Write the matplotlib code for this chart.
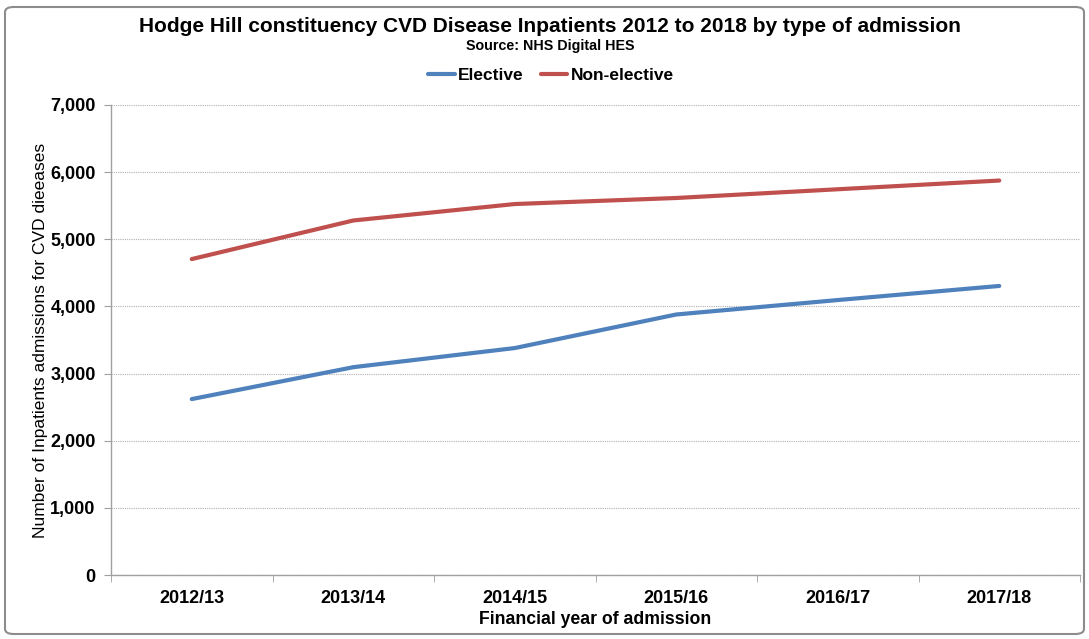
import matplotlib
matplotlib.use("Agg")
import matplotlib.pyplot as plt
from matplotlib.patches import FancyBboxPatch
from matplotlib.ticker import FuncFormatter, FixedLocator
import numpy as np

years = ["2012/13", "2013/14", "2014/15", "2015/16", "2016/17", "2017/18"]
elective = [2620, 3095, 3380, 3880, 4095, 4305]
non_elective = [4705, 5280, 5525, 5615, 5745, 5875]

plt.rcParams['font.family'] = ['Liberation Sans', 'DejaVu Sans']

fig = plt.figure(figsize=(10.89, 6.39), dpi=100)
ax = fig.add_axes([111/1089, 1-575/639, (1080-111)/1089, (575-105)/639])

x = np.arange(len(years))
ax.plot(x, elective, color="#4F81BD", lw=3.0, solid_capstyle="round", label="Elective")
ax.plot(x, non_elective, color="#C0504D", lw=3.0, solid_capstyle="round", label="Non-elective")

ax.set_xlim(-0.5, len(years) - 0.5)
ax.set_ylim(0, 7000)
ax.set_yticks(np.arange(0, 7001, 1000))
ax.yaxis.set_major_formatter(FuncFormatter(lambda v, p: f"{int(v):,}"))
ax.set_xticks(x)
ax.set_xticklabels(years)
ax.xaxis.set_minor_locator(FixedLocator(np.arange(-0.5, len(years), 1.0)))
ax.tick_params(axis='x', which='major', length=0, pad=11, labelsize=13)
ax.tick_params(axis='x', which='minor', length=5, color="#A0A0A0", direction='out')
ax.tick_params(axis='y', length=5, color="#A0A0A0", labelsize=13, pad=6)
for lab in ax.get_xticklabels() + ax.get_yticklabels():
    lab.set_fontweight('bold')

ax.grid(axis='y', linestyle=(0, (1, 1)), color="#B0B0B0", lw=0.8)
ax.set_axisbelow(True)
for s in ['top', 'right']:
    ax.spines[s].set_visible(False)
for s in ['left', 'bottom']:
    ax.spines[s].set_color("#A0A0A0")
    ax.spines[s].set_linewidth(1.0)

ax.set_xlabel("Financial year of admission", fontsize=12.7, fontweight='bold', labelpad=3)
ax.set_ylabel("Number of Inpatients admissions for CVD dieeases", fontsize=12.5, labelpad=2)

fig.text(0.505, 1-27/639, "Hodge Hill constituency CVD Disease Inpatients 2012 to 2018 by type of admission",
         ha='center', va='center', fontsize=15, fontweight='bold')
fig.text(0.505, 1-46/639, "Source: NHS Digital HES", ha='center', va='center', fontsize=10.3, fontweight='bold')

leg = fig.legend(loc='center', bbox_to_anchor=(0.506, 1-75/639), ncol=2, frameon=False,
                 prop={'size': 12.5, 'weight': 'bold'}, handlelength=1.5, handletextpad=0.2,
                 columnspacing=1.0)

border = FancyBboxPatch((5/1089, 5/639), 1-10/1089, 1-12/639,
                        boxstyle="round,pad=0,rounding_size=0.008", transform=fig.transFigure,
                        fill=False, edgecolor="#8C8C8C", lw=1.5)
fig.patches.append(border)

fig.savefig("out.png", dpi=100)
